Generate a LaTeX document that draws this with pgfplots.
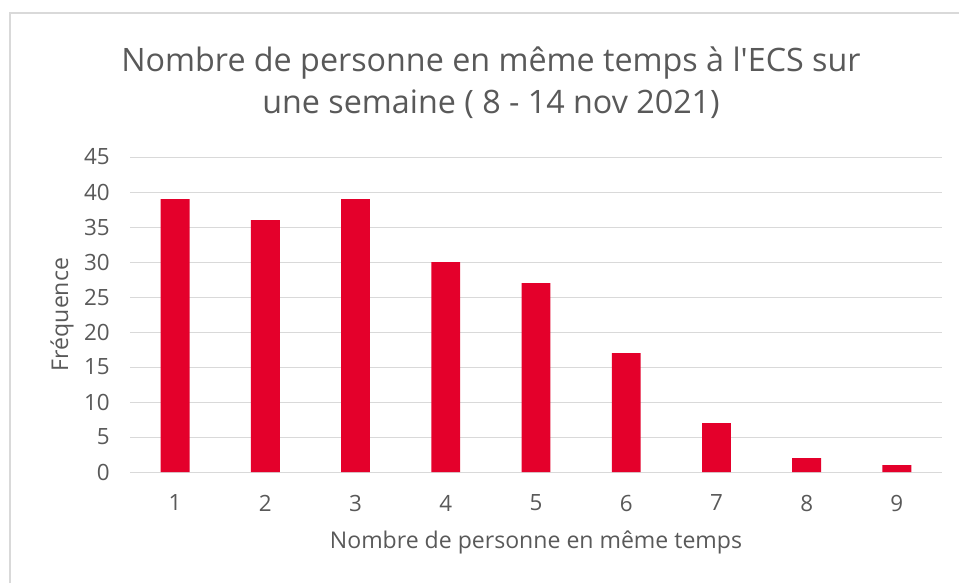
\documentclass[border=0pt]{standalone}
\usepackage{pgfplots}
\pgfplotsset{compat=1.18}
\usepackage{fontspec}
\setmainfont{Open Sans}
\newfontfamily\titlefont{Open Sans}
\definecolor{barred}{RGB}{228,0,43}
\definecolor{txt}{RGB}{89,89,89}
\definecolor{gridgray}{RGB}{217,217,217}
\begin{document}
\begin{tikzpicture}[x=0.75pt,y=0.75pt]
\path[use as bounding box] (0,0) rectangle (959,583);
\draw[gridgray,line width=1.5pt] (10,0) -- (10,570) -- (959,570);
\node[txt,font=\titlefont\fontsize{24.2}{30}\selectfont,anchor=base] at (491,583-72) {Nombre de personne en même temps à l'ECS sur};
\node[txt,font=\titlefont\fontsize{24.2}{30}\selectfont,anchor=base] at (491,583-114) {une semaine ( 8 - 14 nov 2021)};
\begin{axis}[
  at={(97.5pt,83.25pt)}, anchor=south west,
  scale only axis, width=609pt, height=236.25pt,
  xmin=0.5, xmax=9.5, ymin=0, ymax=45,
  ytick={0,5,...,45}, xtick={1,...,9},
  axis line style={draw=none},
  major tick length=0pt,
  ymajorgrids, grid style={gridgray, line width=0.75pt},
  tick label style={txt, font=\fontsize{16.8}{20}\selectfont, inner sep=0pt},
  /pgf/number format/assume math mode=true,
  xticklabel shift=17pt, yticklabel shift=15pt,
  xlabel={Nombre de personne en même temps},
  ylabel={Fréquence},
  label style={txt, font=\fontsize{17.3}{20}\selectfont},
  xlabel style={at={(axis description cs:0.5,0)}, anchor=center, yshift=-53pt},
  ylabel style={at={(axis description cs:0,0.5)}, anchor=center, yshift=51pt},
  ybar, bar width=0.32, bar shift=0pt,
]
\addplot[fill=barred, draw=none] coordinates {(1,39) (2,36) (3,39) (4,30) (5,27) (6,17) (7,7) (8,2) (9,1)};
\end{axis}
\end{tikzpicture}
\end{document}
